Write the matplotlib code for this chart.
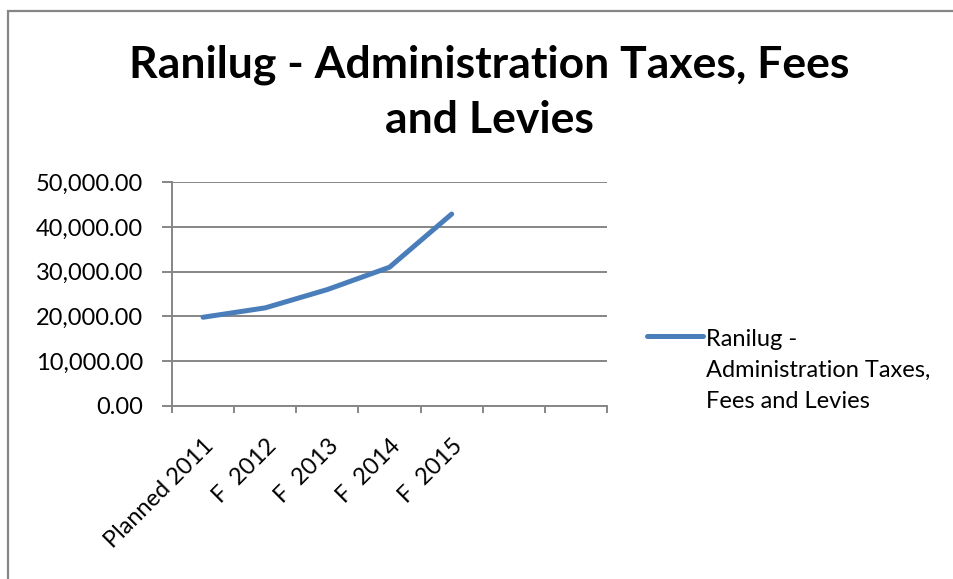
import numpy as np
import matplotlib
matplotlib.use("Agg")
import matplotlib.pyplot as plt
from matplotlib.patches import Rectangle
from matplotlib.lines import Line2D
from matplotlib.legend_handler import HandlerLine2D
from matplotlib.ticker import FuncFormatter

plt.rcParams['font.family'] = ['Lato', 'DejaVu Sans']

# categories and yearly values (last two slots are empty in the sheet)
categories = ["Planned 2011", "F  2012", "F  2013", "F  2014", "F  2015", "", ""]
values = [19800, 21900, 26000, 31000, 42900, np.nan, np.nan]
series_name = "Ranilug -\nAdministration Taxes,\nFees and Levies"
title = "Ranilug - Administration Taxes, Fees\nand Levies"

grid_color = "#868686"
line_color = "#4a7ebb"
fs = 17


class TopLineHandler(HandlerLine2D):
    # put the legend key next to the first line of a multi-line label
    def create_artists(self, legend, orig_handle, xdescent, ydescent,
                       width, height, fontsize, trans):
        arts = super().create_artists(legend, orig_handle, xdescent, ydescent,
                                      width, height, fontsize, trans)
        for a in arts:
            if isinstance(a, Line2D):
                a.set_ydata(np.full_like(np.asarray(a.get_xdata(), float),
                                         height - 0.77 * fontsize))
        return arts


fig = plt.figure(figsize=(9.54, 5.79), dpi=100)
ax = fig.add_axes([0.1803, 0.2993, 0.456, 0.3858])

x = np.arange(len(categories))
line, = ax.plot(x, values, color=line_color, lw=3.6, solid_capstyle='round',
                solid_joinstyle='round', label=series_name)

ax.set_xlim(-0.5, len(categories) - 0.5)
ax.set_ylim(0, 50000)
ax.set_yticks(np.arange(0, 50001, 10000))
ax.yaxis.set_major_formatter(FuncFormatter(lambda v, p: f"{v:,.2f}"))
ax.grid(axis='y', color=grid_color, lw=1.4)
ax.set_axisbelow(True)

# category boundaries get the tick marks, names sit at the slot centres
ax.set_xticks(np.arange(-0.5, len(categories)))
ax.set_xticklabels([])
ax.set_xticks(x, minor=True)
ax.set_xticklabels(categories, minor=True, rotation=45, ha='right',
                   rotation_mode='anchor', fontsize=fs)
ax.tick_params(axis='x', which='minor', length=0, pad=21)
ax.tick_params(axis='x', which='major', length=5, width=1.4, color=grid_color)
ax.tick_params(axis='y', length=7, width=1.4, color=grid_color, pad=14, labelsize=fs)

for side in ['top', 'right']:
    ax.spines[side].set_visible(False)
for side in ['left', 'bottom']:
    ax.spines[side].set_color(grid_color)
    ax.spines[side].set_linewidth(1.4)

fig.text(0.5126, 0.84, title, ha='center', va='center', fontsize=32,
         fontweight='bold', linespacing=1.45)

leg = ax.legend(handles=[line], loc='upper left', bbox_to_anchor=(0.666, 0.452),
                bbox_transform=fig.transFigure, frameon=False, fontsize=fs,
                handlelength=2.35, handletextpad=0.15, handleheight=3.6,
                borderpad=0, handler_map={Line2D: TopLineHandler()})
for t in leg.get_texts():
    t.set_linespacing(1.6)

# outer chart border
fig.patches.append(Rectangle((8 / 954, -0.1), 1.1, 1.1 - 11.5 / 579,
                             transform=fig.transFigure, fill=False,
                             edgecolor=grid_color, lw=1.6))

fig.savefig("out.png", dpi=100)
